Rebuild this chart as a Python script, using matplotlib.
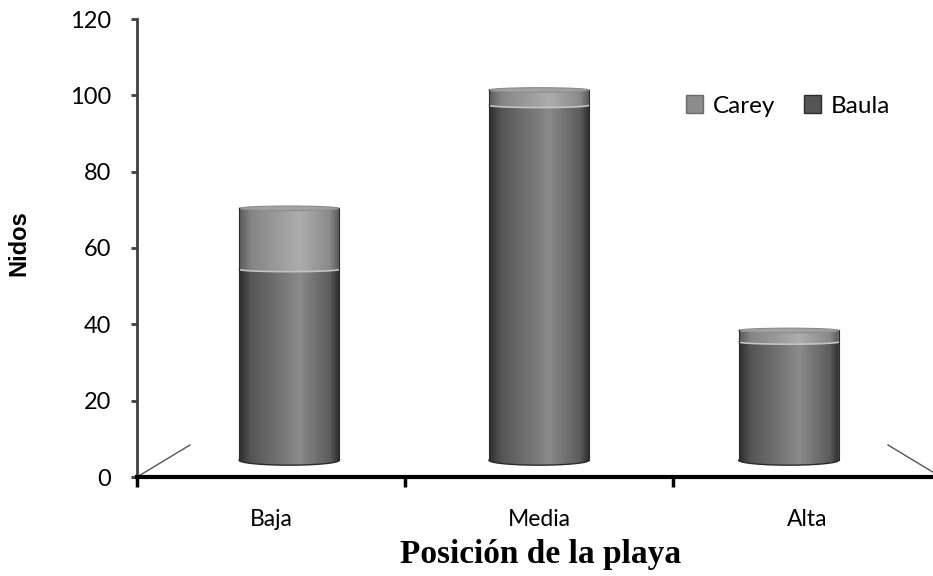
import matplotlib.pyplot as plt
import numpy as np
from matplotlib.colors import LinearSegmentedColormap
from matplotlib.patches import Polygon, Ellipse, Rectangle
from matplotlib.lines import Line2D

categorias = ['Baja', 'Media', 'Alta']
baula = [50, 93, 31]
carey = [16, 4, 3]

plt.rcParams['font.family'] = ['Lato', 'DejaVu Sans']

fig = plt.figure(figsize=(9.33, 5.76), dpi=100)
ax = fig.add_axes([137 / 933, 99 / 576, 804 / 933, 458 / 576])

# cylinder shading, dark at the sides and lighter just right of centre
cmap_baula = LinearSegmentedColormap.from_list(
    'baula', [(0, '#2e2e2e'), (0.12, '#555555'), (0.6, '#8a8a8a'), (0.9, '#5c5c5c'), (1, '#2a2a2a')])
cmap_carey = LinearSegmentedColormap.from_list(
    'carey', [(0, '#5a5a5a'), (0.12, '#858585'), (0.6, '#adadad'), (0.9, '#8a8a8a'), (1, '#555555')])

base = 4.4      # floor depth offset of the 3d look
w = 0.187       # half width of a cylinder
b_bot = 1.3
b_top = 0.6
grad = np.linspace(0, 1, 256)[None, :]


def arc(xc, y, b, n=60):
    t = np.linspace(np.pi, 0, n)
    return np.column_stack([xc + w * np.cos(t), y - b * np.sin(t)])


def segment(xc, y0, y1, b0, b1, cmap, z):
    lower = arc(xc, y0, b0)
    upper = arc(xc, y1, b1)[::-1]
    poly = Polygon(np.vstack([lower, upper]), closed=True, transform=ax.transData)
    im = ax.imshow(grad, cmap=cmap, extent=(xc - w, xc + w, y0 - b0, y1 + b1),
                   aspect='auto', interpolation='bilinear', zorder=z)
    im.set_clip_path(poly)


for i in range(len(categorias)):
    xc = i + 0.068 * (1 - i)
    y_b = base + baula[i]
    y_c = y_b + carey[i]
    segment(xc, base, y_b, b_bot, b_top, cmap_baula, 2)
    segment(xc, y_b, y_c, b_top, b_top, cmap_carey, 3)
    # top cap
    ax.add_patch(Ellipse((xc, y_c), 2 * w, 2 * b_top, facecolor='#a2a2a2',
                         edgecolor='#8a8a8a', lw=0.8, zorder=4))
    # highlight between the two stacks and dark rim at the bottom
    hl = arc(xc, y_b, b_top)
    ax.plot(hl[:, 0], hl[:, 1], color='#c4c4c4', lw=1.2, zorder=4)
    bt = arc(xc, base, b_bot)
    ax.plot(bt[:, 0], bt[:, 1], color='#2a2a2a', lw=1.0, zorder=4)
    ax.plot([xc - w, xc - w], [base, y_c], color='#2a2a2a', lw=0.8, zorder=4)
    ax.plot([xc + w, xc + w], [base, y_c], color='#2a2a2a', lw=0.8, zorder=4)

# floor edges
dx, dy = 53 / 268, 32 / 3.817
ax.add_line(Line2D([-0.5, -0.5 + dx], [0, dy], color='#555555', lw=1, zorder=1))
ax.add_line(Line2D([2.5, 2.5 - dx], [0, dy], color='#555555', lw=1, zorder=1, clip_on=False))

ax.set_xlim(-0.5, 2.5)
ax.set_ylim(0, 120)
ax.set_yticks(range(0, 121, 20))
ax.set_xticks([-0.5, 0.5, 1.5, 2.5])
ax.set_xticklabels([])
ax.set_xticks([0, 1, 2], minor=True)
ax.set_xticklabels(categorias, minor=True, fontsize=16.5)
ax.tick_params(axis='x', which='minor', length=0, pad=23)
ax.tick_params(axis='x', which='major', length=7, width=2.5, color='black')
ax.tick_params(axis='y', length=4.5, width=2, color='#404040', labelsize=17, pad=14)

for s in ['top', 'right']:
    ax.spines[s].set_visible(False)
ax.spines['left'].set_color('#404040')
ax.spines['left'].set_linewidth(2)
ax.spines['bottom'].set_linewidth(3)
ax.spines['bottom'].set_zorder(5)

ax.set_ylabel('Nidos', fontsize=17, fontweight='bold', family='Liberation Sans')
ax.yaxis.set_label_coords(-0.132, 0.51)
fig.text(541 / 933, 1 - 554 / 576, 'Posición de la playa', family='Liberation Serif',
         fontweight='bold', fontsize=24, ha='center', va='center')

handles = [Rectangle((0, 0), 1, 1, facecolor='#8c8c8c', edgecolor='#6a6a6a'),
           Rectangle((0, 0), 1, 1, facecolor='#555555', edgecolor='#2a2a2a')]
fig.legend(handles, ['Carey', 'Baula'], ncol=2, frameon=False, fontsize=17.5,
           loc='center', bbox_to_anchor=(788 / 933, 1 - 106 / 576),
           handlelength=0.7, handleheight=0.7, handletextpad=0.4, columnspacing=1.2)

fig.savefig('out.png', dpi=100)
